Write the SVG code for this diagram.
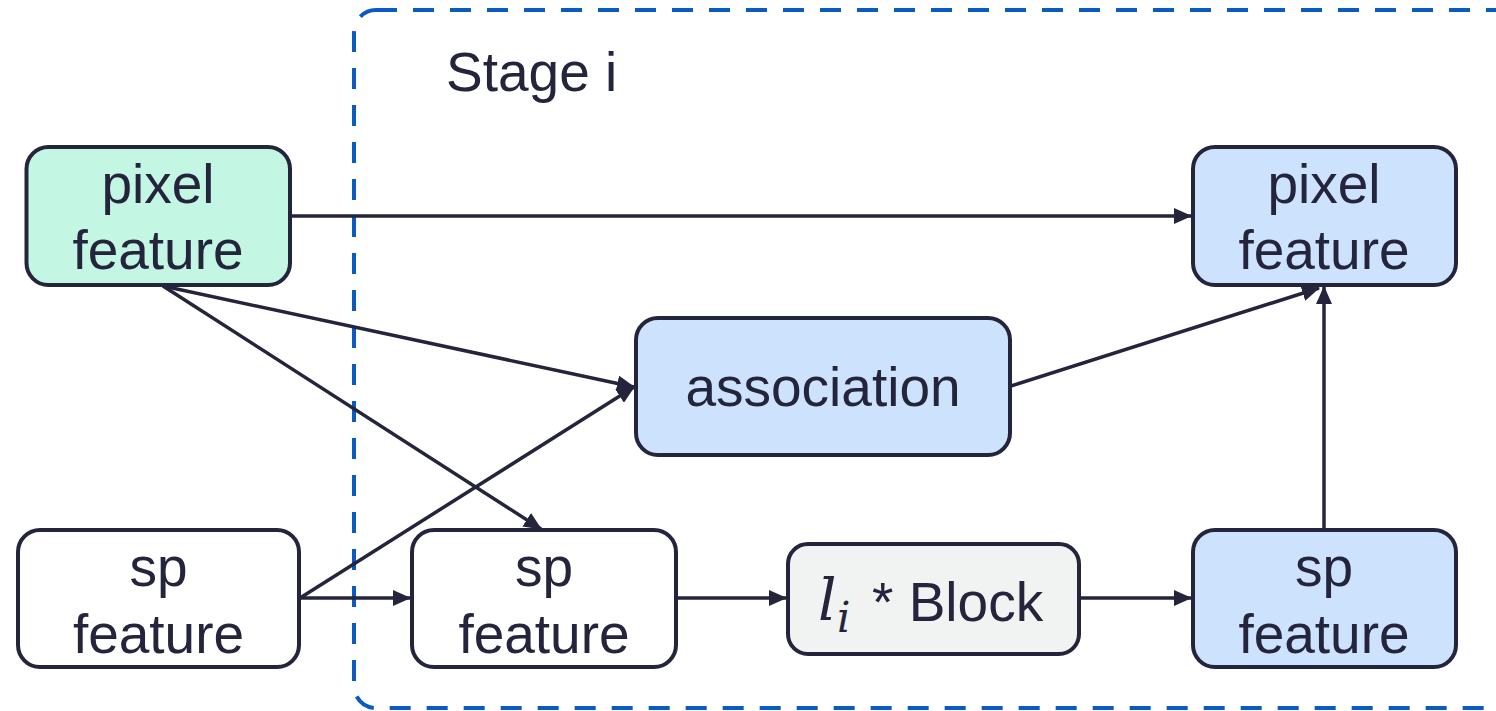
<svg xmlns="http://www.w3.org/2000/svg" width="1496" height="711" viewBox="0 0 1496 711">
<style>
.node{stroke:#24243C;stroke-width:4}
.t{font-family:"Liberation Sans",Arial,sans-serif;font-size:55px;fill:#24243C;text-anchor:middle}
.m{font-family:"DejaVu Serif","Liberation Serif",serif;font-style:italic;fill:#24243C}
.c{stroke:#24243C;stroke-width:3.5;fill:none;marker-end:url(#ah)}
</style>
<defs>
<marker id="ah" viewBox="0 0 18 16" refX="17" refY="8" markerWidth="18" markerHeight="16" markerUnits="userSpaceOnUse" orient="auto">
<path d="M0,0 L18,8 L0,16 Z" fill="#24243C"/>
</marker>
</defs>
<rect width="1496" height="711" fill="#ffffff"/>
<g id="stage">
<rect x="354" y="10" width="1180" height="698" rx="22" fill="none" stroke="#0A5AC4" stroke-width="4" stroke-dasharray="21 16"/>
<text x="446" y="91" class="t" style="text-anchor:start">Stage i</text>
</g>
<g id="connectors">
<line class="c" x1="290" y1="216" x2="1191" y2="216"/>
<line class="c" x1="163" y1="286" x2="634" y2="387"/>
<line class="c" x1="163" y1="286" x2="541" y2="529"/>
<line class="c" x1="300" y1="598" x2="634" y2="387"/>
<line class="c" x1="300" y1="598" x2="410" y2="598"/>
<line class="c" x1="678" y1="598" x2="786" y2="598"/>
<line class="c" x1="1081" y1="598" x2="1191" y2="598"/>
<line class="c" x1="1324" y1="529" x2="1324" y2="287"/>
<line class="c" x1="1011" y1="386" x2="1319" y2="288"/>
</g>
<g id="pixel-in">
<rect class="node" x="26.5" y="147" width="263.5" height="138" rx="22" fill="#C3F7E4"/>
<text class="t" x="158" y="203">pixel</text>
<text class="t" x="158" y="269">feature</text>
</g>
<g id="pixel-out">
<rect class="node" x="1193" y="147" width="263" height="138" rx="22" fill="#CDE3FD"/>
<text class="t" x="1324" y="203">pixel</text>
<text class="t" x="1324" y="269">feature</text>
</g>
<g id="association">
<rect class="node" x="636" y="318" width="374" height="137" rx="22" fill="#CDE3FD"/>
<text class="t" x="823" y="406">association</text>
</g>
<g id="sp-in">
<rect class="node" x="18" y="530" width="281" height="137" rx="22" fill="#ffffff"/>
<text class="t" x="158.5" y="586">sp</text>
<text class="t" x="158.5" y="653">feature</text>
</g>
<g id="sp-mid">
<rect class="node" x="412" y="530" width="264" height="137" rx="22" fill="#ffffff"/>
<text class="t" x="544" y="586">sp</text>
<text class="t" x="544" y="653">feature</text>
</g>
<g id="block">
<rect class="node" x="788" y="544" width="291" height="110" rx="20" fill="#F1F3F2"/>
<text class="m" x="818" y="620" font-size="58">l</text>
<text class="m" x="837" y="632" font-size="42">i</text>
<text class="t" x="872" y="621" style="text-anchor:start">* Block</text>
</g>
<g id="sp-out">
<rect class="node" x="1193" y="530" width="263" height="137" rx="22" fill="#CDE3FD"/>
<text class="t" x="1324" y="586">sp</text>
<text class="t" x="1324" y="653">feature</text>
</g>
</svg>
